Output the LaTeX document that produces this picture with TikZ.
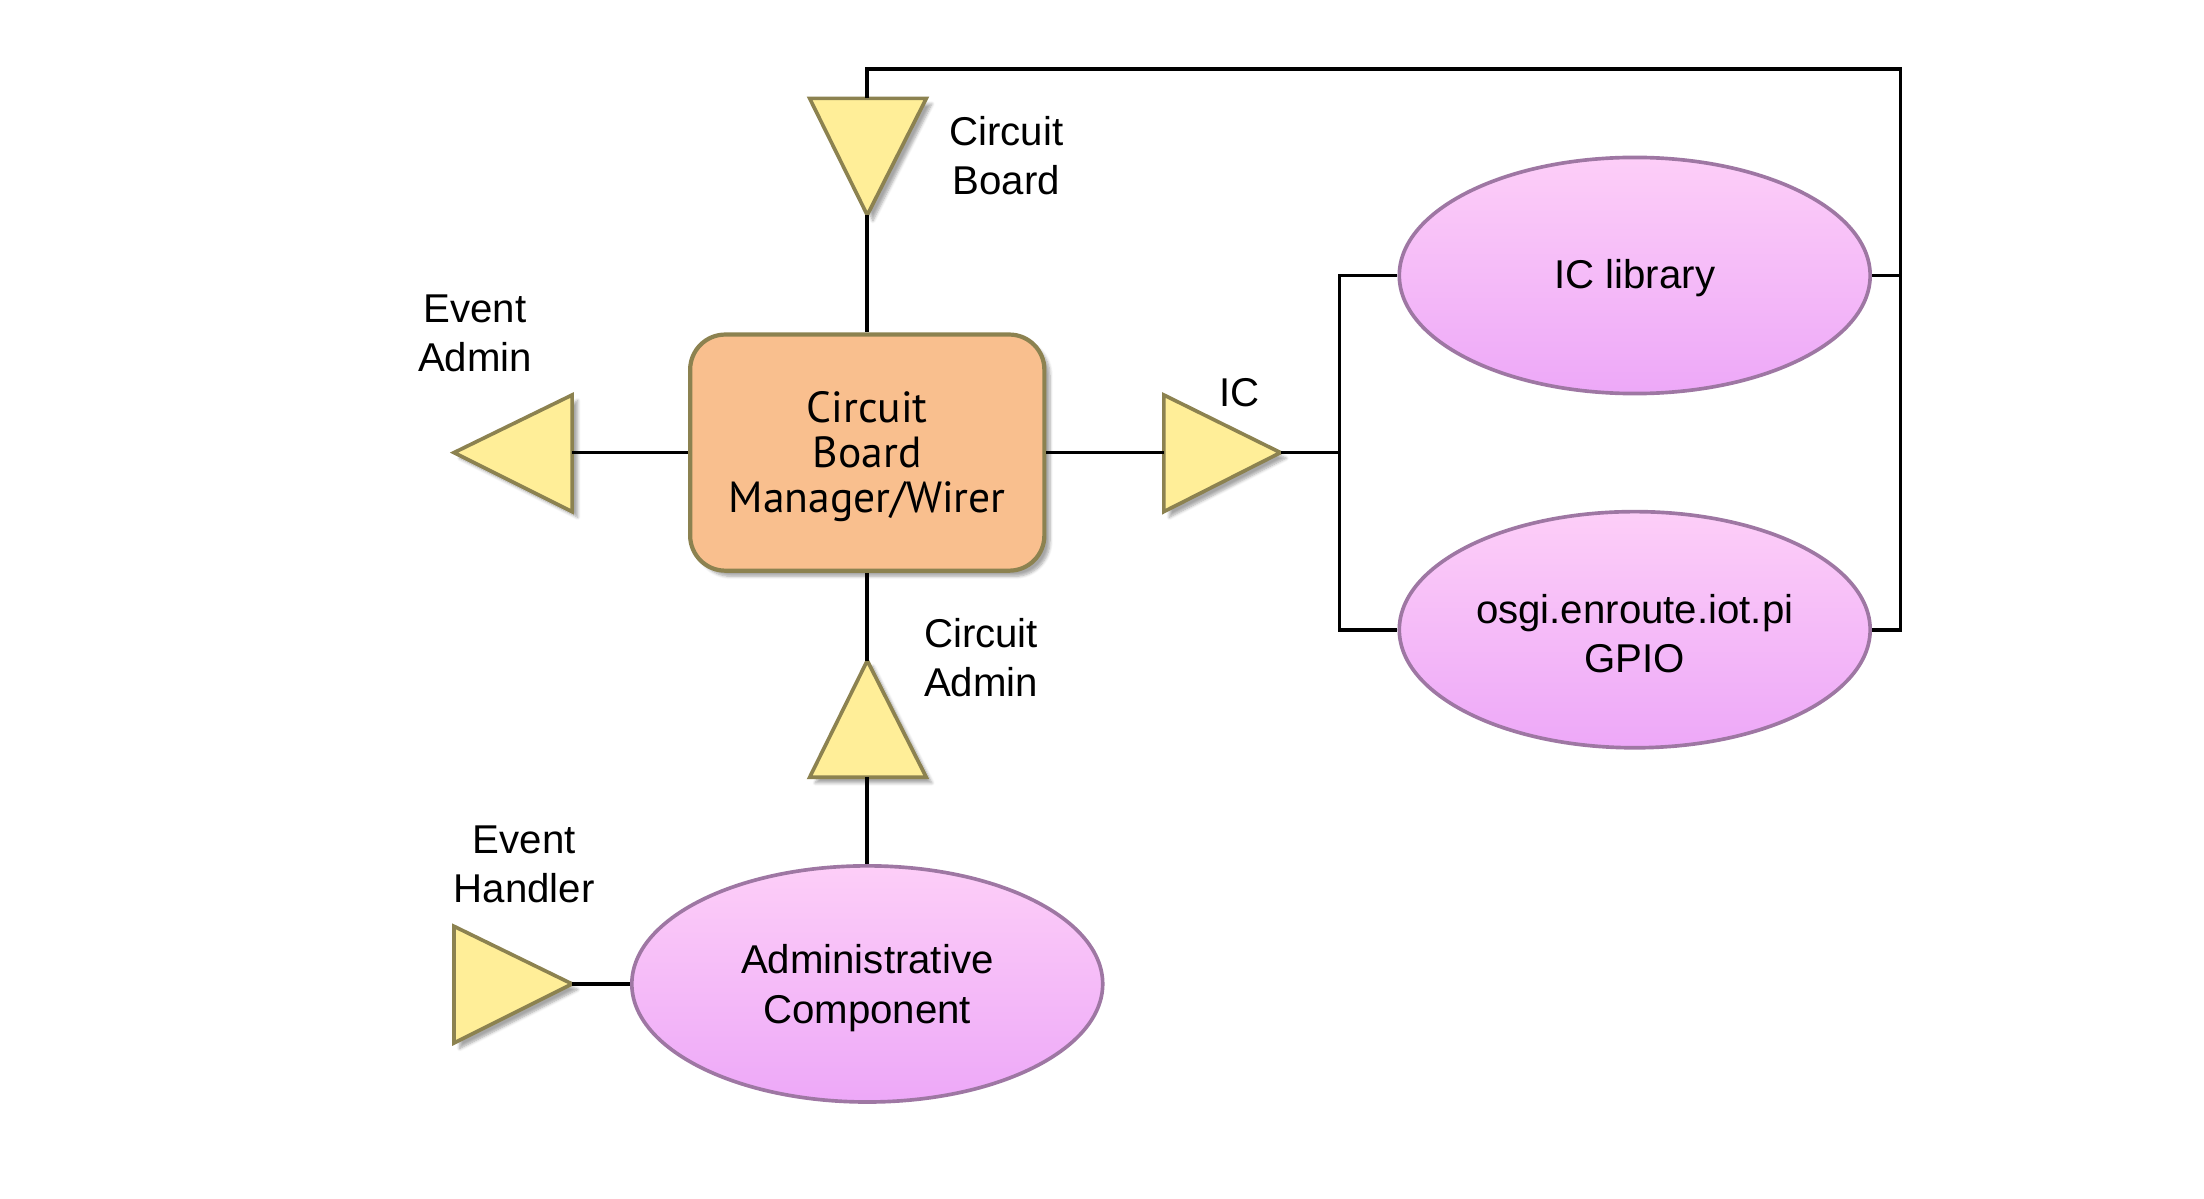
\documentclass[tikz,border=0pt]{standalone}
\usepackage{fontspec}
\setmainfont{Liberation Sans}
\newfontfamily\boxfont{PT Sans}
\usetikzlibrary{shadows.blur}
\definecolor{triFill}{HTML}{FFEE98}
\definecolor{olive}{HTML}{8C8250}
\definecolor{boxFill}{HTML}{F9BF8E}
\definecolor{ellTop}{HTML}{FDCEF8}
\definecolor{ellBot}{HTML}{EDA8F8}
\definecolor{ellLine}{HTML}{9E77A3}
\tikzset{
  x=1pt, y=-1pt,
  conn/.style={line width=2.6pt, black},
  port/.style={fill=triFill, draw=olive, line width=2.6pt, line join=miter,
    blur shadow={shadow xshift=4pt, shadow yshift=-4pt, shadow blur steps=6, shadow opacity=35}},
  mgrbox/.style={draw=olive, fill=boxFill, line width=3pt, rounded corners=25pt,
    minimum width=252pt, minimum height=168pt, inner sep=0pt,
    blur shadow={shadow xshift=4pt, shadow yshift=-4pt, shadow blur steps=6, shadow opacity=35}},
  mgrtext/.style={align=center, inner sep=0pt, font=\boxfont\fontsize{31}{32}\selectfont},
  comp/.style={ellipse, draw=ellLine, line width=2.6pt, top color=ellTop, bottom color=ellBot,
    minimum width=335pt, minimum height=168pt, inner sep=0pt},
  lbl/.style={align=center, inner sep=0pt, font=\fontsize{28.6}{35}\selectfont}
}
\usetikzlibrary{shapes.geometric}
\begin{document}
\begin{tikzpicture}
\useasboundingbox (0,0) rectangle (1568,853);

% components
\node[mgrbox] (mgr) at (617,322) {};
\node[mgrtext] (mgrt) at (617,325) {Circuit\\Board\\Manager/Wirer};
\node[comp] (iclib) at (1163,196) {};
\node[lbl] (iclibt) at (1163,198) {IC library};
\node[comp] (gpio) at (1163,448) {};
\node[lbl] (gpiot) at (1163,451) {osgi.enroute.iot.pi\\GPIO};
\node[comp] (adm) at (617,700) {};
\node[lbl] (admt) at (617,703) {Administrative\\Component};

% ports (triangles)
\draw[port] (576,70) -- (659,70) -- (617,153) -- cycle;
\coordinate (cbtop) at (617,70);
\coordinate (cbapex) at (617,153);

\draw[port] (323,322) -- (407,281) -- (407,364) -- cycle;
\coordinate (eabase) at (407,322);

\draw[port] (828,281) -- (911,322) -- (828,364) -- cycle;
\coordinate (icbase) at (828,322);
\coordinate (icapex) at (911,322);

\draw[port] (617,470) -- (659,553) -- (576,553) -- cycle;
\coordinate (caapex) at (617,470);
\coordinate (cabase) at (617,553);

\draw[port] (323,659) -- (407,700) -- (323,742) -- cycle;
\coordinate (ehapex) at (407,700);

% routing points
\coordinate (topl) at (617,49);
\coordinate (topr) at (1352,49);
\coordinate (rbus) at (1352,196);
\coordinate (lbus) at (953,322);

% connectors
\draw[conn] (cbapex) -- (mgr.north);
\draw[conn] (eabase) -- (mgr.west);
\draw[conn] (mgr.east) -- (icbase);
\draw[conn] (mgr.south) -- (caapex);
\draw[conn] (cabase) -- (adm.north);
\draw[conn] (ehapex) -- (adm.west);
\draw[conn] (icapex) -- (lbus);
\draw[conn] (iclib.west) -| (lbus) |- (gpio.west);
\draw[conn] (cbtop) -- (topl) -- (topr) |- (gpio.east);
\draw[conn] (iclib.east) -- (rbus);

% labels
\node[lbl] (lcb) at (716,111) {Circuit\\Board};
\node[lbl] (lea) at (338,237) {Event\\Admin};
\node[lbl] (lic) at (882,279) {IC};
\node[lbl] (lca) at (698,468) {Circuit\\Admin};
\node[lbl] (leh) at (373,615) {Event\\Handler};
\end{tikzpicture}
\end{document}
